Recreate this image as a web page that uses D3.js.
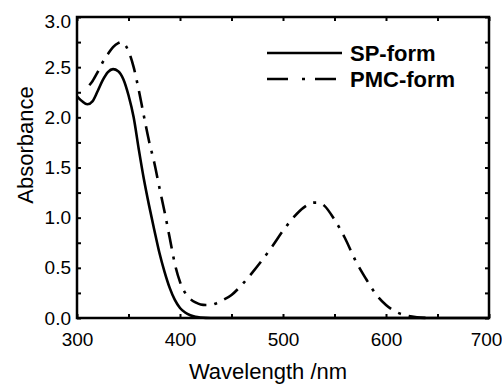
<!DOCTYPE html>
<html>
<head>
<meta charset="utf-8">
<script src="https://cdn.jsdelivr.net/npm/d3@7"></script>
<style>
  html, body { margin: 0; padding: 0; background: #fff; }
  svg { display: block; }
  text { font-family: "Liberation Sans", Arial, sans-serif; fill: #000; }
</style>
</head>
<body>
<svg id="chart" width="502" height="384"></svg>
<script>
// ---- Data ----
const spWavelength = [300,305,310,315,320,325,330,335,340,345,350,355,360,365,370,375,380,385,390,395,400,405,410,415,420,430,450,500,550,600,650,700];
const spAbsorbance = [2.21,2.16,2.13,2.16,2.26,2.37,2.45,2.48,2.46,2.38,2.22,2.00,1.68,1.38,1.12,0.88,0.65,0.46,0.30,0.18,0.10,0.055,0.028,0.012,0.005,0.0,0.0,0.0,0.0,0.0,0.0,0.0];

const pmcWavelength = [312,315,320,325,330,335,340,343,345,350,355,360,365,370,375,380,385,390,395,400,405,410,415,420,425,430,435,440,450,460,470,480,490,500,510,520,530,535,540,550,560,570,580,590,600,610,620,630,640];
const pmcAbsorbance = [2.32,2.36,2.45,2.55,2.63,2.70,2.74,2.75,2.74,2.66,2.50,2.27,2.01,1.76,1.55,1.30,1.06,0.80,0.54,0.36,0.25,0.19,0.155,0.135,0.13,0.13,0.145,0.17,0.23,0.33,0.45,0.58,0.72,0.87,1.00,1.10,1.15,1.15,1.12,0.98,0.80,0.58,0.40,0.24,0.13,0.06,0.025,0.008,0.0];

const xTicks = [300,400,500,600,700];
const xMinorTicks = [350,450,550,650];
const yTicks = [0.0,0.5,1.0,1.5,2.0,2.5,3.0];
const yMinorTicks = [0.25,0.75,1.25,1.75,2.25,2.75];
const seriesNames = ["SP-form","PMC-form"];
const xTitle = "Wavelength /nm";
const yTitle = "Absorbance";

// ---- Layout ----
const svg = d3.select("#chart");
const L = 77, R = 489, T = 17, B = 318;
const x = d3.scaleLinear().domain([300,700]).range([L,R]);
const y = d3.scaleLinear().domain([0,3]).range([B,T]);

const line = d3.line().x(d => x(d[0])).y(d => y(d[1])).curve(d3.curveMonotoneX);

const g = svg.append("g");

// curves
g.append("path")
  .datum(spWavelength.map((w,i) => [w, spAbsorbance[i]]))
  .attr("d", line).attr("fill","none").attr("stroke","#000")
  .attr("stroke-width",2.6).attr("stroke-linejoin","round");

g.append("path")
  .datum(pmcWavelength.map((w,i) => [w, pmcAbsorbance[i]]))
  .attr("d", line).attr("fill","none").attr("stroke","#000")
  .attr("stroke-width",2.6).attr("stroke-dasharray","17,8,3,8");

// axes with inward ticks
const tickLen = 4;
function axisSet(axisFn, scale, ticks, transform, size, label) {
  const a = axisFn(scale).tickValues(ticks).tickSizeInner(-size).tickSizeOuter(0);
  if (!label) a.tickFormat("");
  else a.tickFormat(d3.format(label));
  const sel = svg.append("g").attr("transform", transform).call(a);
  sel.select(".domain").remove();
  sel.selectAll(".tick line").attr("stroke","#000").attr("stroke-width",2);
  return sel;
}
const bottom = axisSet(d3.axisBottom, x, xTicks.concat(xMinorTicks), `translate(0,${B})`, tickLen, "d");
bottom.selectAll(".tick text").filter(d => xMinorTicks.includes(d)).remove();
bottom.selectAll(".tick text").attr("font-size",19).attr("dy","0.71em").attr("y",15)
  .style("font-family","'Liberation Sans', Arial, sans-serif");
bottom.selectAll(".tick text").filter(d => d === 700).attr("x",-3);

const left = axisSet(d3.axisLeft, y, yTicks.concat(yMinorTicks), `translate(${L},0)`, tickLen, ".1f");
left.selectAll(".tick text").filter(d => yMinorTicks.includes(d)).remove();
left.selectAll(".tick text").attr("font-size",19).attr("x",-6)
  .style("font-family","'Liberation Sans', Arial, sans-serif");
left.selectAll(".tick text").filter(d => d === 3.0).attr("y",4);

axisSet(d3.axisTop, x, xTicks.concat(xMinorTicks), `translate(0,${T})`, tickLen, null);
axisSet(d3.axisRight, y, yTicks.concat(yMinorTicks), `translate(${R},0)`, tickLen, null);

// frame
svg.append("rect").attr("x",L).attr("y",T).attr("width",R-L).attr("height",B-T)
  .attr("fill","none").attr("stroke","#000").attr("stroke-width",2.5);

// axis titles
svg.append("text").attr("x",268).attr("y",379).attr("text-anchor","middle")
  .attr("font-size",22).text(xTitle);
svg.append("text").attr("transform","translate(33,145) rotate(-90)")
  .attr("text-anchor","middle").attr("font-size",22).text(yTitle);

// legend
const legY = [53, 79];
const legend = svg.append("g");
seriesNames.forEach((name, i) => {
  legend.append("line").attr("x1",267).attr("x2",342).attr("y1",legY[i]).attr("y2",legY[i])
    .attr("stroke","#000").attr("stroke-width",2.6)
    .attr("stroke-dasharray", i === 1 ? "21,14,3,10" : null);
  legend.append("text").attr("x",350).attr("y",legY[i]).attr("dy","0.36em")
    .attr("font-size",22).attr("font-weight","bold").text(name);
});
</script>
</body>
</html>
